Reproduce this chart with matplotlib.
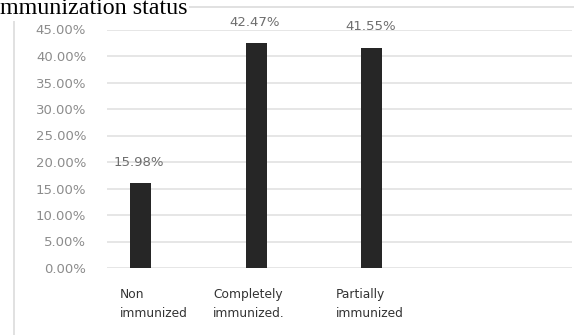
import matplotlib
matplotlib.use("Agg")
import matplotlib.pyplot as plt
from matplotlib.lines import Line2D
from matplotlib.ticker import FuncFormatter, MultipleLocator

# Data
categories = ["Non\nimmunized", "Completely\nimmunized.", "Partially\nimmunized"]
values = [15.98, 42.47, 41.55]
value_labels = ["15.98%", "42.47%", "41.55%"]
title_text = "mmunization status"

W, H, DPI = 574, 335, 100
fig = plt.figure(figsize=(W / DPI, H / DPI), dpi=DPI)
fig.patch.set_facecolor("white")

# Plot area in pixel terms
left_px, right_px, zero_px, top_px = 107, 572, 268, 29.5
ax = fig.add_axes([left_px / W, 1 - zero_px / H,
                   (right_px - left_px) / W, (zero_px - top_px) / H])

x = list(range(len(values)))
ax.bar(x, values, width=0.18, color="#262626", zorder=3)

ax.set_ylim(0, 45)
ax.set_xlim(-0.29, 3.73)
ax.yaxis.set_major_locator(MultipleLocator(5))
ax.yaxis.set_major_formatter(FuncFormatter(lambda v, p: f"{v:.2f}%"))
ax.grid(axis="y", color="#e2e2e2", linewidth=1.2, zorder=0)
for s in ax.spines.values():
    s.set_visible(False)
ax.tick_params(axis="y", length=0, pad=15, labelsize=9.5, labelcolor="#8c8c8c")
ax.set_xticks([])

# Value labels above bars
for xi, v, lab in zip(x, values, value_labels):
    ax.annotate(lab, (xi, v), xytext=(-1, 15), textcoords="offset points",
                ha="center", va="center", fontsize=9.5, color="#6e6e6e")

# Category labels, left-aligned under each bar
label_offsets = [-0.177, -0.371, -0.311]
for xi, off, cat in zip(x, label_offsets, categories):
    ax.text(xi + off, -0.085, cat, transform=ax.get_xaxis_transform(),
            ha="left", va="top", fontsize=8.8, color="#333333", linespacing=1.6)

# Chart border (top and left edges)
fig.add_artist(Line2D([14 / W, 1.0], [1 - 7 / H, 1 - 7 / H],
                      transform=fig.transFigure, color="#dcdcdc", linewidth=1.2))
fig.add_artist(Line2D([14 / W, 14 / W], [1 - 7 / H, 0.0],
                      transform=fig.transFigure, color="#dcdcdc", linewidth=1.2))

# Title
fig.text(0.0, 1 - 14.5 / H, title_text, ha="left", va="baseline",
         family="Liberation Serif", fontsize=17.3, color="black",
         bbox=dict(facecolor="white", edgecolor="none", pad=1.0))

fig.savefig("out.png", dpi=DPI, facecolor="white")
